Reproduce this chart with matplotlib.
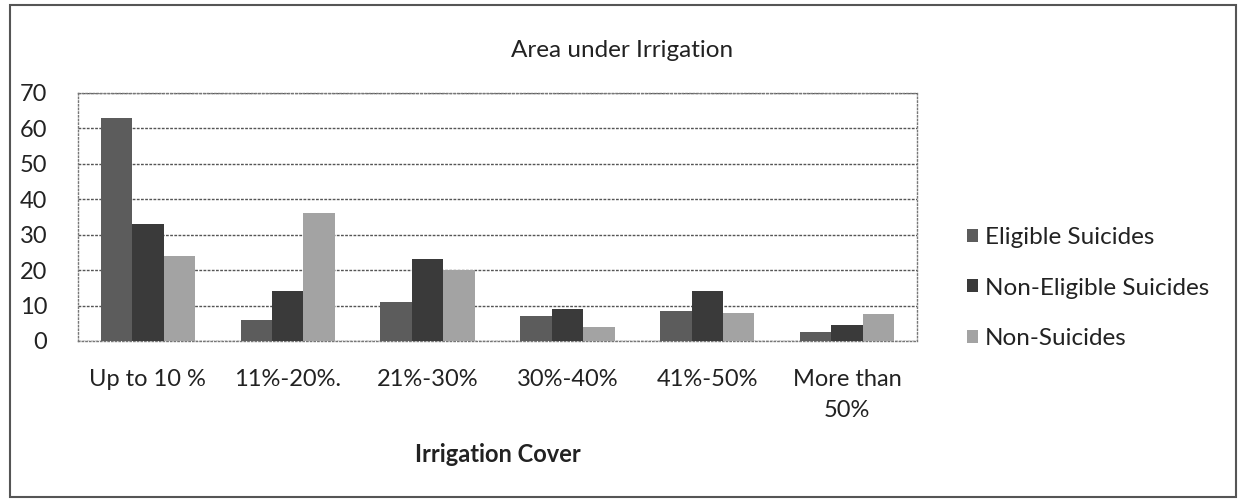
import numpy as np
import matplotlib.pyplot as plt
from matplotlib.patches import Rectangle

plt.rcParams['font.family'] = ['Lato', 'DejaVu Sans']

# données
categories = ['Up to 10 %', '11%-20%.', '21%-30%', '30%-40%', '41%-50%', 'More than\n50%']
eligible = [63, 6, 11, 7, 8.5, 2.5]
non_eligible = [33, 14, 23, 9, 14, 4.5]
non_suicides = [24, 36, 20, 4, 8, 7.5]
series_names = ['Eligible Suicides', 'Non-Eligible Suicides', 'Non-Suicides']
colors = ['#5c5c5c', '#3a3a3a', '#a3a3a3']

fig = plt.figure(figsize=(12.4, 5.01), dpi=100)
ax = fig.add_axes([0.0629, 0.3194, 0.6766, 0.495])

x = np.arange(len(categories))
w = 0.225
for k, vals in enumerate([eligible, non_eligible, non_suicides]):
    ax.bar(x + (k - 1) * w, vals, w, color=colors[k], label=series_names[k], zorder=3)

ax.set_xlim(-0.5, len(categories) - 0.5)
ax.set_ylim(0, 70)
ax.set_yticks(np.arange(0, 71, 10))
ax.yaxis.grid(True, linestyle=(0, (2, 1)), color='#555555', linewidth=1, zorder=0)
ax.tick_params(axis='both', length=0, labelsize=17, colors='#222222')
ax.tick_params(axis='y', pad=22)
ax.tick_params(axis='x', pad=20)
ax.set_xticks(x)
ax.set_xticklabels(categories, linespacing=1.6)
for s in ax.spines.values():
    s.set_linestyle(':')
    s.set_color('#777777')
    s.set_linewidth(1)

ax.set_xlabel('Irrigation Cover', fontsize=17, fontweight='bold', labelpad=16, color='#222222')
fig.text(0.502, 0.9, 'Area under Irrigation', fontsize=17.5, ha='center', va='center', color='#222222')

leg = fig.legend(loc='center left', bbox_to_anchor=(0.762, 0.425), frameon=False, fontsize=17.5,
                 handlelength=0.45, handleheight=0.45, handletextpad=0.3, labelspacing=1.2)
for t in leg.get_texts():
    t.set_color('#222222')

# cadre autour du graphique
fig.patches.append(Rectangle((0.008, 0.008), 0.989, 0.982, transform=fig.transFigure,
                             fill=False, edgecolor='#555555', linewidth=1.5))

fig.savefig('out.png', dpi=100)
